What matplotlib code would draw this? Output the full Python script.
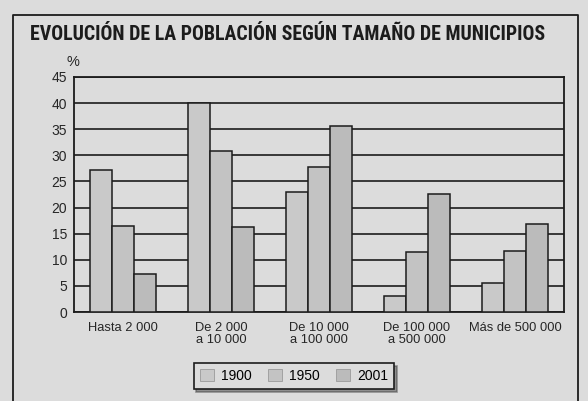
import matplotlib
matplotlib.use("Agg")
import matplotlib.pyplot as plt
from matplotlib import font_manager as fm
from matplotlib.font_manager import FontProperties
from matplotlib.textpath import TextPath
import numpy as np

categories = ["Hasta 2 000", "De 2 000\na 10 000", "De 10 000\na 100 000", "De 100 000\na 500 000", "Más de 500 000"]
years = ["1900", "1950", "2001"]
v1900 = [27.2, 40.1, 22.9, 3.1, 5.6]
v1950 = [16.5, 30.8, 27.7, 11.4, 11.7]
v2001 = [7.2, 16.3, 35.7, 22.6, 16.8]
yticks = [0, 5, 10, 15, 20, 25, 30, 35, 40, 45]
title = "EVOLUCIÓN DE LA POBLACIÓN SEGÚN TAMAÑO DE MUNICIPIOS"

avail = {f.name for f in fm.fontManager.ttflist}
def pick(names):
    for n in names:
        if n in avail:
            return n
    return "DejaVu Sans"

title_font = pick(["Roboto Condensed", "Liberation Sans Narrow", "PT Sans Narrow", "Open Sans Condensed", "Asap Condensed", "Barlow Condensed", "Liberation Sans"])
text_font = pick(["Liberation Sans", "Arimo", "DejaVu Sans"])

def fit_size(s, family, weight, target_px, dpi=100):
    fp = FontProperties(family=family, weight=weight, size=10)
    w = TextPath((0, 0), s, prop=fp).get_extents().width
    return 10 * target_px / (w * dpi / 72)

title_size = fit_size(title, title_font, "bold", 515)

bg = "#dcdcdc"
ink = "#1c1c1c"
txt = "#262626"
fig = plt.figure(figsize=(5.88, 4.01), dpi=100, facecolor=bg)
W, H = 588, 401
ax = fig.add_axes([74 / W, 1 - 312 / H, (564 - 74) / W, (312 - 77) / H])
ax.set_facecolor(bg)

x = np.arange(len(categories))
bw = 22 / 98
colors = ["#c9c9c9", "#c3c3c3", "#bbbbbb"]
for i, vals in enumerate([v1900, v1950, v2001]):
    ax.bar(x + (i - 1) * bw, vals, width=bw, color=colors[i], edgecolor=ink,
           linewidth=1.1, label=years[i], zorder=3)

ax.set_xlim(-0.5, len(categories) - 0.5)
ax.set_ylim(0, 45)
ax.set_yticks(yticks)
ax.set_yticklabels([str(t) for t in yticks], fontfamily=text_font, fontsize=10, color=txt)
ax.set_xticks(x)
ax.set_xticklabels(categories, fontfamily=text_font, fontsize=9.3, color=txt, linespacing=1.05)
ax.tick_params(axis="y", length=0, pad=5)
ax.tick_params(axis="x", length=0, pad=7)
ax.yaxis.grid(True, color=ink, linewidth=1.2, zorder=0)
ax.set_axisbelow(True)
for s in ax.spines.values():
    s.set_color(ink)
    s.set_linewidth(1.3)

fig.text(73 / W, 1 - 62 / H, "%", fontfamily=text_font, fontsize=10.5, color=txt,
         ha="center", va="center")

fig.text(30 / W, 1 - 34 / H, title, fontfamily=title_font, fontweight="bold", fontsize=title_size,
         color=ink, ha="left", va="center")

# outer frame
fig.add_artist(plt.Line2D([13 / W, 13 / W, 578 / W, 578 / W], [0, 1 - 15 / H, 1 - 15 / H, 0],
                          transform=fig.transFigure, color=ink, linewidth=1.3))

leg = fig.legend(loc="center", bbox_to_anchor=(294 / W, 1 - 376 / H), ncol=3, frameon=True,
                 fancybox=False, shadow=True, edgecolor=ink, facecolor=bg,
                 prop={"family": text_font, "size": 10}, handlelength=1.0, handleheight=0.9,
                 columnspacing=1.2, handletextpad=0.5, borderpad=0.45)
leg.get_frame().set_linewidth(1.2)
for h in leg.legend_handles:
    h.set_edgecolor("#9a9a9a")
    h.set_linewidth(0.6)

fig.savefig("out.png", dpi=100, facecolor=bg)
